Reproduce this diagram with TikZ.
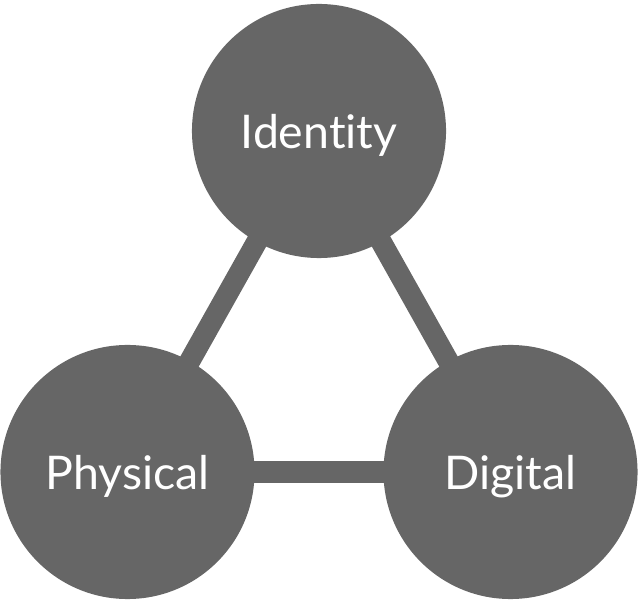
\documentclass[tikz,border=0pt]{standalone}
\usepackage{fontspec}
\setmainfont{Lato}[Ligatures={NoCommon,NoRare}]
\definecolor{disc}{HTML}{666666}

\tikzset{
  pillar/.style={circle, fill=disc, draw=none, inner sep=0pt,
    minimum size=6.35cm, text=white, font=\fontsize{33}{36}\selectfont,
    text depth=0pt},
  link/.style={disc, line width=0.525cm, shorten <=-3pt, shorten >=-3pt}
}

\begin{document}
\begin{tikzpicture}[x=0.025cm, y=0.025cm]

      \useasboundingbox (0,0) rectangle (638,599);

      \node[pillar] (identity) at (319, 468) {Identity};
      \node[pillar] (physical) at (127.5, 127) {Physical};
      \node[pillar] (digital)  at (510.5, 127) {Digital};

      \draw[link] (identity) -- (physical);
      \draw[link] (identity) -- (digital);
      \draw[link] (physical) -- (digital);
    \end{tikzpicture}
\end{document}
